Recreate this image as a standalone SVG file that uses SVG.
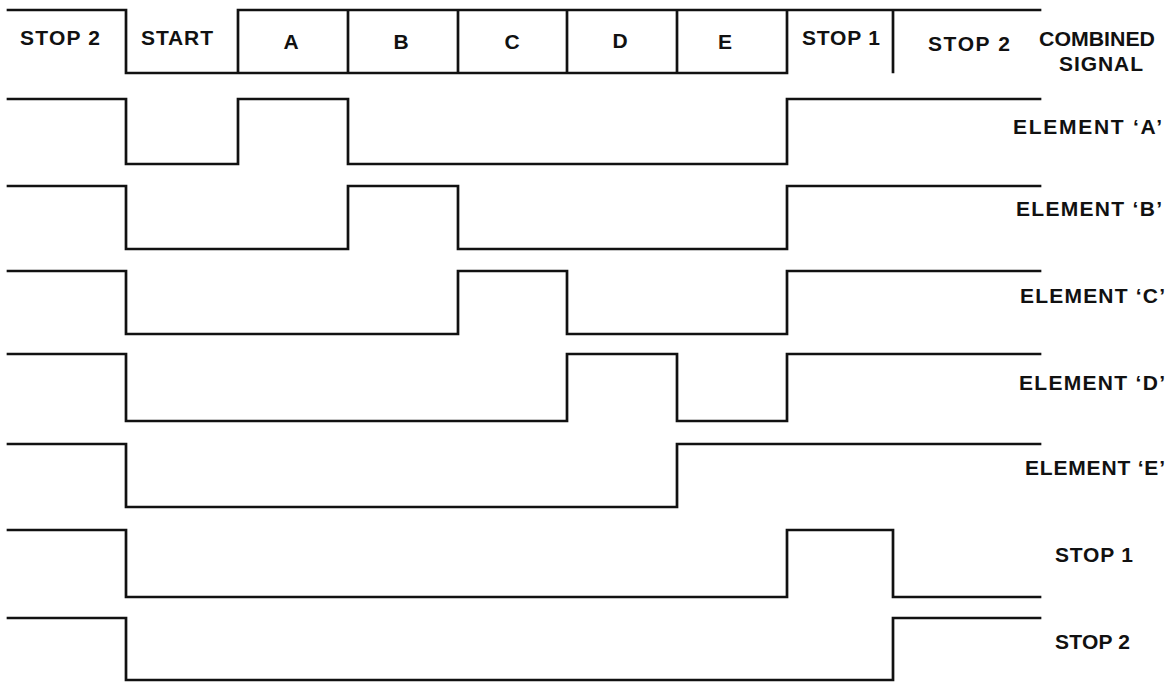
<svg xmlns="http://www.w3.org/2000/svg" width="1176" height="682" viewBox="0 0 1176 682">
<style>
.w{fill:none;stroke:#111;stroke-width:2.7;stroke-linejoin:miter;stroke-linecap:square}
text{font-family:"Liberation Sans",Arial,sans-serif;font-weight:bold;font-size:21px;fill:#111}
.c{text-anchor:middle}
</style>
<rect width="1176" height="682" fill="#fff"/>
<g id="combined">
<path class="w" d="M8,10 H126 V73 H787 V10 M238,73 V10 H1040 M348,10 V73 M458,10 V73 M567,10 V73 M677,10 V73 M893,10 V72"/>
<text x="20" y="45" textLength="80" lengthAdjust="spacing">STOP 2</text>
<text x="141" y="45" textLength="72" lengthAdjust="spacing">START</text>
<text class="c" x="291" y="49">A</text>
<text class="c" x="401" y="49">B</text>
<text class="c" x="512" y="49">C</text>
<text class="c" x="620" y="48">D</text>
<text class="c" x="725" y="49">E</text>
<text x="802" y="45" textLength="78" lengthAdjust="spacing">STOP 1</text>
<text x="928" y="51" textLength="82" lengthAdjust="spacing">STOP 2</text>
<text x="1039" y="46" textLength="116" lengthAdjust="spacingAndGlyphs">COMBINED</text>
<text x="1059" y="71" textLength="84" lengthAdjust="spacing">SIGNAL</text>
</g>
<g id="element-a">
<path class="w" d="M8,99 H126 V164 H238 V99 H348 V164 H787 V99 H1040"/>
<text x="1013" y="134" textLength="149" lengthAdjust="spacing">ELEMENT ‘A’</text>
</g>
<g id="element-b">
<path class="w" d="M8,186 H126 V249 H348 V186 H458 V249 H787 V186 H1040"/>
<text x="1016" y="216" textLength="146" lengthAdjust="spacing">ELEMENT ‘B’</text>
</g>
<g id="element-c">
<path class="w" d="M8,271 H126 V334 H458 V271 H567 V334 H787 V271 H1040"/>
<text x="1020" y="303" textLength="145" lengthAdjust="spacing">ELEMENT ‘C’</text>
</g>
<g id="element-d">
<path class="w" d="M8,354 H126 V421 H567 V354 H677 V421 H787 V354 H1040"/>
<text x="1019" y="390" textLength="146" lengthAdjust="spacing">ELEMENT ‘D’</text>
</g>
<g id="element-e">
<path class="w" d="M8,444 H126 V507 H677 V444 H1040"/>
<text x="1025" y="475" textLength="140" lengthAdjust="spacing">ELEMENT ‘E’</text>
</g>
<g id="stop-1">
<path class="w" d="M8,530 H126 V597 H787 V530 H893 V597 H1040"/>
<text x="1055" y="562" textLength="78" lengthAdjust="spacing">STOP 1</text>
</g>
<g id="stop-2">
<path class="w" d="M8,618 H126 V680 H893 V618 H1040"/>
<text x="1055" y="649" textLength="75" lengthAdjust="spacing">STOP 2</text>
</g>
<g id="connectors"></g>
</svg>
